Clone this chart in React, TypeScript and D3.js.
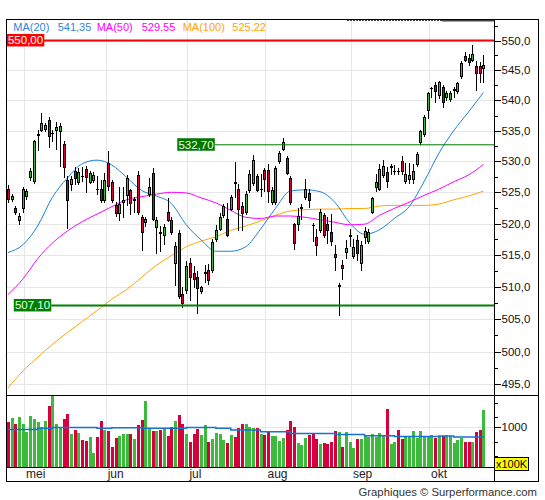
import * as d3 from 'd3';
import React, { useEffect, useRef } from 'react';

// daily candles, 24 apr 2023 -> 20 okt 2023
const opens = [
  525.6, 523.9, 522.5, 520.6, 522.5, 524.4, 527.4, 526.8, 534.3, 535.2, 535.3, 536.8, 534.6, 535.2, 534.9, 532.9,
  527.0, 526.4, 528.4, 526.7, 527.7, 528.8, 526.7, 527.0, 525.6, 525.6, 523.7, 529.7, 526.7, 522.9, 521.6, 523.5,
  524.6, 525.3, 523.8, 527.8, 521.1, 520.2, 524.7, 528.1, 519.5, 518.6, 518.2, 521.8, 520.6, 513.7, 518.5, 508.9,
  509.5, 513.7, 512.1, 511.5, 509.4, 512.2, 512.7, 512.7, 517.6, 519.2, 521.4, 520.8, 522.3, 526.6, 525.5, 522.8,
  521.9, 525.3, 526.5, 527.6, 525.5, 528.6, 528.6, 523.5, 523.5, 530.0, 532.0, 530.5, 527.3, 520.0, 519.9, 522.4,
  524.3, 524.9, 519.8, 517.9, 518.9, 521.3, 520.0, 518.7, 515.2, 510.2, 513.4, 515.5, 518.0, 514.9, 517.4, 513.8,
  517.8, 517.3, 521.8, 525.9, 525.6, 527.8, 528.3, 529.1, 528.4, 528.5, 530.1, 526.9, 527.1, 527.1, 529.6, 533.2,
  534.4, 538.4, 542.0, 542.5, 540.9, 542.3, 540.6, 540.2, 541.8, 541.5, 544.0, 547.4, 547.0, 546.8, 545.8, 545.8,
  545.4,
];
const highs = [
  526.2, 524.7, 522.8, 521.6, 525.8, 525.6, 528.9, 533.5, 535.2, 537.9, 536.2, 537.3, 535.2, 536.5, 536.3, 533.3,
  527.6, 527.6, 529.1, 528.9, 529.1, 529.2, 528.5, 528.2, 527.6, 527.0, 528.1, 531.7, 527.0, 523.4, 525.9, 525.9,
  527.8, 525.6, 524.3, 528.4, 521.3, 521.0, 527.3, 529.0, 521.1, 519.6, 520.0, 524.1, 521.1, 517.0, 519.0, 510.0,
  514.0, 514.5, 513.2, 512.5, 510.2, 513.4, 513.6, 517.6, 519.8, 521.6, 523.2, 523.3, 524.6, 529.9, 526.3, 523.4,
  525.2, 528.6, 531.0, 527.9, 528.0, 529.0, 529.5, 525.8, 529.3, 531.7, 533.8, 530.9, 527.6, 520.1, 522.5, 523.2,
  527.2, 525.6, 520.1, 519.2, 522.3, 521.6, 521.0, 521.5, 516.6, 510.6, 514.2, 517.4, 519.1, 517.6, 518.2, 517.3,
  519.4, 519.2, 524.2, 527.9, 529.5, 530.2, 529.1, 529.6, 529.4, 529.0, 530.8, 529.8, 529.8, 529.5, 531.5, 535.1,
  537.6, 541.4, 542.2, 543.1, 543.2, 542.5, 541.6, 541.6, 542.2, 543.1, 546.5, 548.0, 547.7, 549.3, 546.5, 546.4,
  547.6,
];
const lows = [
  523.5, 523.6, 521.5, 519.9, 521.8, 523.9, 527.0, 526.5, 531.9, 535.0, 535.0, 532.3, 533.4, 532.0, 529.2, 527.5,
  519.3, 525.3, 526.4, 526.3, 526.9, 525.1, 526.5, 526.6, 524.8, 523.4, 523.4, 525.3, 523.5, 521.2, 520.5, 521.0,
  523.0, 521.5, 521.9, 521.5, 515.8, 519.6, 524.4, 520.6, 515.3, 515.6, 516.8, 520.4, 518.4, 510.3, 508.3, 506.8,
  509.0, 507.9, 510.0, 505.9, 509.0, 510.8, 510.4, 512.4, 517.3, 518.9, 521.1, 518.0, 522.2, 524.3, 518.9, 518.9,
  521.5, 525.1, 526.1, 525.2, 524.4, 525.2, 523.5, 523.1, 523.1, 529.8, 531.8, 527.9, 523.2, 515.9, 518.9, 520.8,
  524.0, 522.6, 517.2, 515.0, 518.7, 517.9, 516.9, 516.6, 512.7, 505.7, 511.3, 514.5, 516.4, 514.6, 514.2, 512.6,
  516.9, 516.9, 521.6, 525.2, 525.4, 527.5, 525.8, 528.0, 527.9, 527.9, 527.9, 526.5, 526.5, 526.5, 529.3, 532.8,
  534.2, 537.1, 540.5, 539.8, 540.4, 538.9, 540.1, 539.9, 540.5, 541.3, 543.7, 546.5, 545.9, 546.5, 541.8, 543.0,
  543.0,
];
const closes = [
  523.9, 524.4, 521.8, 521.2, 525.5, 525.2, 528.5, 533.3, 534.4, 536.3, 535.9, 534.2, 534.7, 535.6, 535.7, 529.1,
  523.8, 527.2, 527.3, 528.2, 527.6, 527.5, 528.1, 527.8, 525.5, 523.7, 527.0, 526.0, 523.8, 521.6, 523.2, 523.7,
  527.3, 523.3, 523.9, 521.9, 518.7, 520.7, 525.9, 520.8, 520.6, 518.5, 519.4, 520.6, 518.7, 516.4, 508.5, 507.5,
  513.2, 511.5, 511.3, 509.9, 510.0, 512.3, 511.1, 517.0, 519.0, 521.1, 522.8, 518.2, 524.3, 526.5, 522.3, 521.7,
  524.7, 527.9, 530.3, 525.4, 525.6, 527.2, 525.2, 525.4, 529.0, 531.4, 533.1, 528.1, 523.5, 516.9, 521.2, 522.6,
  525.6, 523.7, 519.7, 516.6, 521.9, 518.2, 519.0, 517.3, 514.7, 510.3, 512.9, 516.1, 518.1, 516.3, 515.4, 516.6,
  518.8, 518.7, 524.1, 526.6, 528.8, 529.3, 526.8, 529.2, 528.5, 528.4, 528.4, 528.0, 527.8, 528.4, 531.2, 535.0,
  537.3, 541.2, 542.1, 541.5, 543.1, 539.8, 541.3, 541.3, 541.9, 542.8, 546.2, 546.7, 546.4, 547.7, 544.5, 544.6,
  545.9,
];
// volume in units of 100K
const volumes = [
  1142, 1244, 1091, 1269, 1091, 888, 1294, 1218, 1134, 1015, 1167, 1548, 1802, 1091, 990, 1218,
  1345, 838, 939, 863, 685, 660, 761, 355, 761, 1167, 939, 914, 508, 736, 787, 838,
  838, 838, 711, 1058, 1193, 1650, 973, 914, 914, 939, 981, 787, 1015, 1167, 1320, 1091,
  838, 635, 821, 964, 812, 1049, 635, 711, 846, 829, 685, 609, 804, 761, 990, 1091,
  1091, 1015, 990, 973, 829, 804, 888, 787, 787, 660, 736, 931, 1167, 1015, 609, 550,
  719, 804, 829, 694, 575, 601, 575, 635, 905, 888, 508, 880, 635, 482, 702, 702,
  787, 744, 829, 744, 863, 804, 1472, 575, 618, 931, 694, 744, 744, 905, 728, 905,
  744, 744, 804, 728, 787, 787, 804, 787, 592, 668, 728, 618, 635, 635, 888, 931,
  1447,
];

// moving averages every 4 sessions
const maStep = 4;
const ma20 = [
  515.4, 516.6, 519.6, 524.2, 527.3, 529.6, 530.2, 529.4, 527.4, 525.3, 524.4, 523.2, 519.8, 517.4, 515.6, 515.6,
  516.3, 519.1, 522.4, 525.2, 525.4, 525.1, 523.4, 520.1, 518.3, 519.0, 520.8, 522.7, 526.7, 531.3, 535.0, 538.1,
  541.3,
];
const ma50 = [
  508.8, 511.2, 514.4, 516.9, 518.8, 520.3, 521.5, 522.7, 523.8, 524.3, 524.7, 525.0, 524.9, 524.1, 523.3, 522.1,
  521.0, 520.8, 521.2, 521.2, 521.0, 520.6, 520.2, 519.8, 519.9, 521.3, 522.4, 523.4, 524.5, 525.5, 526.7, 527.8,
  529.5,
];
const ma100 = [
  494.4, 497.0, 499.1, 501.1, 502.9, 504.6, 506.3, 508.1, 509.6, 511.5, 513.4, 514.9, 516.3, 517.2, 517.9, 518.9,
  519.6, 520.4, 521.3, 522.0, 522.2, 522.3, 522.3, 522.4, 522.4, 522.8, 522.9, 522.9, 522.9, 523.1, 523.8, 524.4,
  525.2,
];
const volumeMa = [
  947, 947, 973, 998, 998, 998, 973, 990, 990, 973, 973, 973, 998, 998, 973, 931,
  931, 888, 888, 846, 846, 846, 821, 821, 787, 787, 770, 770, 770, 778, 753, 753,
  736,
];

const monthNames = ['jan', 'feb', 'mrt', 'apr', 'mei', 'jun', 'jul', 'aug', 'sep', 'okt', 'nov', 'dec'];
const priceTicks = [495, 500, 505, 510, 515, 520, 525, 530, 535, 540, 545, 550];
const volumeLabelTick = 1000;
const volumeMinorTicks = [285, 640, 1270, 1620];
const levelValues = [550, 532.7, 507.1];
const levelStartIndex = [-1, 46, 2];
const maLabels = ['MA(20)', 'MA(50)', 'MA(100)'];
const maLastValues = [541.35, 529.55, 525.22];

const tradingDays = d3.timeDay
  .range(new Date(2023, 3, 24), new Date(2023, 9, 21))
  .filter((d) => d.getDay() % 6 !== 0 && !(d.getMonth() === 4 && d.getDate() === 1));

const FONT = '"Liberation Sans", Arial, sans-serif';
const GREEN = '#3cba3c';
const RED = '#d5003c';

export default function App() {
  const svgRef = useRef<SVGSVGElement | null>(null);

  useEffect(() => {
    if (!svgRef.current) return;
    const svg = d3.select(svgRef.current);
    svg.selectAll('*').remove();

    const left = 6.5, right = 494.5, axisRight = 538.5;
    const top = 19.5, priceBottom = 395.5, volBottom = 467.5, bottom = 481.5;

    const nl = d3.formatLocale({ decimal: ',', thousands: '.', grouping: [3], currency: ['', ''] });
    const fmt1 = nl.format('.1f');
    const fmt2 = nl.format('.2f');

    const keys = tradingDays.map((d) => d3.timeFormat('%Y-%m-%d')(d));
    const x = d3.scaleBand<string>().domain(keys).range([5.4, 484.7]);
    const cx = (i: number) => x(keys[i])! + x.step() / 2 + 0.6;
    const y = d3.scaleLog().domain([495, 550]).range([384.3, 40.5]);
    const yVol = d3.scaleLinear().domain([0, 1000]).range([467, 427.3]);

    svg.append('rect').attr('width', 545).attr('height', 500).attr('fill', '#fff');

    const defs = svg.append('defs');
    defs.append('clipPath').attr('id', 'priceClip')
      .append('rect').attr('x', left).attr('y', top).attr('width', right - left).attr('height', priceBottom - top);

    // month boundaries
    const monthStarts = d3.range(1, keys.length).filter((i) => tradingDays[i].getMonth() !== tradingDays[i - 1].getMonth());
    const grid = svg.append('g').attr('stroke', '#e6e6e6').attr('shape-rendering', 'crispEdges');
    monthStarts.forEach((i) => {
      const gx = Math.round(x(keys[i])!) + 0.5;
      grid.append('line').attr('x1', gx).attr('x2', gx).attr('y1', top).attr('y2', volBottom);
    });
    priceTicks.forEach((v) => {
      const gy = Math.round(y(v)) + 0.5;
      grid.append('line').attr('x1', left).attr('x2', right).attr('y1', gy).attr('y2', gy);
    });
    grid.append('line').attr('x1', left).attr('x2', right)
      .attr('y1', Math.round(yVol(volumeLabelTick)) + 0.5).attr('y2', Math.round(yVol(volumeLabelTick)) + 0.5);

    const plot = svg.append('g').attr('clip-path', 'url(#priceClip)');

    // moving averages
    const maLine = d3.line<number>()
      .x((_, k) => cx(Math.min(k * maStep, keys.length - 1)))
      .y((v) => y(v))
      .curve(d3.curveMonotoneX);
    const maSeries = [ma100, ma50, ma20];
    const maColors = ['#ffa500', '#ff00ff', '#1f80d8'];
    maSeries.forEach((s, k) => {
      plot.append('path').attr('d', maLine(s)).attr('fill', 'none')
        .attr('stroke', maColors[k]).attr('stroke-width', 1);
    });

    // horizontal levels
    const levelColors = ['#ff0000', '#007800', '#008000'];
    const levelWidths = [2, 1, 2];
    const labelW = 37.5, labelH = 12.5;
    const levelLayer = svg.append('g');
    levelValues.forEach((v, k) => {
      const ly = y(v);
      const bx = levelStartIndex[k] < 0 ? left + 0.3 : cx(levelStartIndex[k]) - 1.5;
      levelLayer.append('line')
        .attr('x1', levelStartIndex[k] < 0 ? left : bx + labelW).attr('x2', right)
        .attr('y1', ly).attr('y2', ly)
        .attr('stroke', levelColors[k]).attr('stroke-width', levelWidths[k]);
      levelLayer.append('rect')
        .attr('x', bx).attr('y', ly - labelH / 2 - 0.3).attr('width', labelW).attr('height', labelH)
        .attr('fill', levelColors[k]);
      levelLayer.append('text')
        .attr('x', bx + labelW / 2).attr('y', ly + 3.8)
        .attr('text-anchor', 'middle')
        .attr('font-family', FONT).attr('font-size', 11.5)
        .attr('fill', k === 0 ? '#fff' : '#e8ffe8')
        .text(fmt2(v));
    });

    // candles
    const candles = plot.append('g').attr('shape-rendering', 'crispEdges');
    d3.range(closes.length).forEach((i) => {
      const c = Math.round(cx(i));
      const up = closes[i] >= opens[i];
      const yTop = Math.round(y(Math.max(opens[i], closes[i])));
      const yBot = Math.round(y(Math.min(opens[i], closes[i])));
      candles.append('line')
        .attr('x1', c + 0.5).attr('x2', c + 0.5)
        .attr('y1', Math.round(y(highs[i]))).attr('y2', Math.round(y(lows[i])) + 1)
        .attr('stroke', '#000');
      if (yBot - yTop < 1) {
        candles.append('line')
          .attr('x1', c - 1).attr('x2', c + 2)
          .attr('y1', yTop + 0.5).attr('y2', yTop + 0.5)
          .attr('stroke', '#000');
      } else {
        candles.append('rect')
          .attr('x', c - 0.5).attr('y', yTop + 0.5)
          .attr('width', 2).attr('height', yBot - yTop)
          .attr('fill', up ? GREEN : RED).attr('stroke', '#000');
      }
    });

    // volume
    const volLayer = svg.append('g').attr('shape-rendering', 'crispEdges');
    volumes.forEach((v, i) => {
      const c = Math.round(cx(i));
      const top0 = Math.round(yVol(v));
      volLayer.append('rect')
        .attr('x', c - 1).attr('y', top0).attr('width', 3).attr('height', yVol(0) - top0)
        .attr('fill', closes[i] >= opens[i] ? GREEN : RED);
    });
    const volLine = d3.line<number>()
      .x((_, k) => cx(Math.min(k * maStep, keys.length - 1)))
      .y((v) => yVol(v))
      .curve(d3.curveStepAfter);
    svg.append('path').attr('d', volLine(volumeMa)).attr('fill', 'none')
      .attr('stroke', '#1572d2').attr('stroke-width', 1.5);

    // frame
    const frame = svg.append('g').attr('stroke', '#000').attr('fill', 'none').attr('shape-rendering', 'crispEdges');
    frame.append('rect').attr('x', left).attr('y', top).attr('width', axisRight - left).attr('height', bottom - top);
    frame.append('line').attr('x1', right).attr('x2', right).attr('y1', top).attr('y2', bottom);
    frame.append('line').attr('x1', left).attr('x2', axisRight).attr('y1', priceBottom).attr('y2', priceBottom);
    frame.append('line').attr('x1', left).attr('x2', right).attr('y1', volBottom).attr('y2', volBottom);

    // little bar along the top edge
    svg.append('line').attr('x1', 347).attr('x2', 442).attr('y1', 20.5).attr('y2', 20.5)
      .attr('stroke', '#444').attr('stroke-dasharray', '2,1');
    svg.append('line').attr('x1', 442).attr('x2', right).attr('y1', 20.8).attr('y2', 20.8)
      .attr('stroke', '#444').attr('stroke-width', 1.6);

    // right price axis
    const axis = svg.append('g').attr('shape-rendering', 'crispEdges').attr('stroke', '#000');
    priceTicks.forEach((v) => {
      const ty = Math.round(y(v)) + 0.5;
      axis.append('line').attr('x1', right).attr('x2', right + 6).attr('y1', ty).attr('y2', ty);
      const my = Math.round(y(v + 2.5)) + 0.5;
      if (my > top) axis.append('line').attr('x1', right).attr('x2', right + 3.5).attr('y1', my).attr('y2', my);
    });
    const tyVol = Math.round(yVol(volumeLabelTick)) + 0.5;
    axis.append('line').attr('x1', right).attr('x2', right + 6).attr('y1', tyVol).attr('y2', tyVol);
    volumeMinorTicks.forEach((v) => {
      const my = Math.round(yVol(v)) + 0.5;
      axis.append('line').attr('x1', right).attr('x2', right + 3.5).attr('y1', my).attr('y2', my);
    });

    const labels = svg.append('g').attr('font-family', FONT).attr('font-size', 11.5).attr('fill', '#111');
    priceTicks.forEach((v) => {
      labels.append('text').attr('x', right + 7).attr('y', y(v) + 4).text(fmt1(v));
    });
    labels.append('text').attr('x', right + 7).attr('y', yVol(volumeLabelTick) + 4).text(String(volumeLabelTick));

    // x100K badge
    svg.append('rect').attr('x', right).attr('y', 457.5).attr('width', 34).attr('height', 12.5)
      .attr('fill', '#ffff00').attr('stroke', '#000').attr('shape-rendering', 'crispEdges');
    svg.append('text').attr('x', right + 1.5).attr('y', 467.8)
      .attr('font-family', FONT).attr('font-size', 11).attr('fill', '#000').text('x100K');

    // month labels
    monthStarts.concat([0]).forEach((i) => {
      if (i === 0) return;
      svg.append('text')
        .attr('x', x(keys[i])! + 2).attr('y', 478)
        .attr('font-family', FONT).attr('font-size', 12).attr('fill', '#222')
        .text(monthNames[tradingDays[i].getMonth()]);
    });

    // legend
    const legendX = [13.3, 57.7, 96.7, 141.7, 182.7, 232.3];
    const legendColors = ['#2f86dd', '#ff00ff', '#ffa500'];
    maLabels.forEach((name, k) => {
      svg.append('text').attr('x', legendX[k * 2]).attr('y', 31)
        .attr('font-family', FONT).attr('font-size', 11).attr('fill', legendColors[k]).text(name);
      svg.append('text').attr('x', legendX[k * 2 + 1]).attr('y', 31)
        .attr('font-family', FONT).attr('font-size', 11).attr('fill', legendColors[k]).text(fmt2(maLastValues[k]));
    });

    svg.append('text').attr('x', 537).attr('y', 495.5).attr('text-anchor', 'end')
      .attr('font-family', FONT).attr('font-size', 11.3).attr('fill', '#333')
      .text('Graphiques © Surperformance.com');
  }, []);

  return (
    <div style={{ position: 'absolute', left: 0, top: 0 }}>
      <svg ref={svgRef} width={545} height={500} style={{ display: 'block' }} />
    </div>
  );
}
